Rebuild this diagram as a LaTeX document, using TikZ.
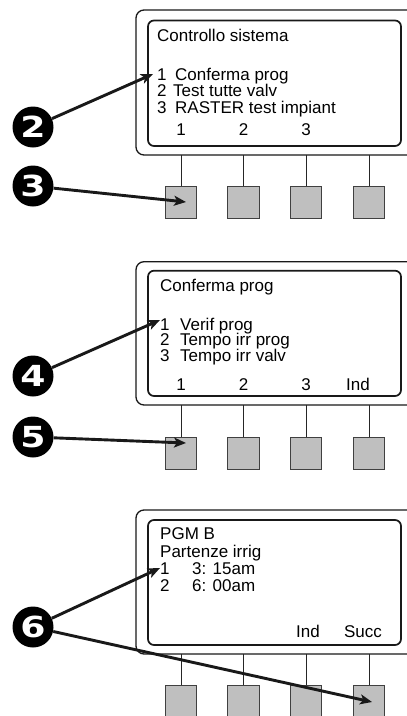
\documentclass[tikz,border=0pt]{standalone}
\usepackage{fontspec}
\setmainfont{Liberation Sans}
\newfontfamily\numfont{DejaVu Sans}
\usetikzlibrary{arrows.meta}
\newcommand{\dg}[2]{\makebox[#1][l]{#2}}
\begin{document}
\begin{tikzpicture}[x=1pt,y=-1pt,
  outerbox/.style={draw=black!90, line width=1.3pt, rounded corners=8pt},
  screen/.style={draw=black!90, line width=1.7pt, rounded corners=6pt},
  stem/.style={draw=black!85, line width=0.9pt},
  key/.style={draw=black!75, fill=black!25, line width=0.8pt, rectangle, minimum width=31.5pt, minimum height=31.5pt, inner sep=0pt, anchor=north},
  lbl/.style={anchor=base west, inner sep=0pt, font=\fontsize{17}{17}\selectfont},
  softlbl/.style={anchor=base, inner sep=0pt, font=\fontsize{17}{17}\selectfont},
  num/.style={circle, fill=black, minimum size=41pt, inner sep=0pt, text=white, font=\numfont\bfseries\fontsize{29}{29}\selectfont},
  arr/.style={-{Stealth[length=12pt,width=10pt,inset=3pt]}, line width=2.9pt, draw=black!90}]
\useasboundingbox (0,0) rectangle (407,716);
\clip (0,0) rectangle (407,716);

% ---------- Panel 1 ----------
\draw[outerbox] (136,10) rectangle (425,155);
\draw[screen] (148,20.5) rectangle (401,146);
\foreach \x/\n in {181/a,243.5/b,306/c,369/d}{
  \node[key] (k1\n) at (\x,186) {};
  \draw[stem] (k1\n.north) -- (\x,155);
}
\node[lbl] (p1t) at (157,41) {Controllo sistema};
\node[lbl] (p1l1) at (157,80) {\dg{18pt}{1}Conferma prog};
\node[lbl] (p1l2) at (157,96.5) {\dg{16pt}{2}Test tutte valv};
\node[lbl] (p1l3) at (157,113) {\dg{18pt}{3}RASTER test impiant};
\node[softlbl] (p1s1) at (181,135) {1};
\node[softlbl] (p1s2) at (243.5,135) {2};
\node[softlbl] (p1s3) at (306,135) {3};

% ---------- Panel 2 ----------
\draw[outerbox] (136,261.7) rectangle (425,405);
\draw[screen] (148,270.7) rectangle (401,396);
\foreach \x/\n in {181/a,243.5/b,306/c,369/d}{
  \node[key] (k2\n) at (\x,437) {};
  \draw[stem] (k2\n.north) -- (\x,405);
}
\node[lbl] (p2t) at (160,291) {Conferma prog};
\node[lbl] (p2l1) at (160,330) {\dg{20pt}{1}Verif prog};
\node[lbl] (p2l2) at (160,345.5) {\dg{20pt}{2}Tempo irr prog};
\node[lbl] (p2l3) at (160,361) {\dg{20pt}{3}Tempo irr valv};
\node[softlbl] (p2s1) at (181,390) {1};
\node[softlbl] (p2s2) at (243.5,390) {2};
\node[softlbl] (p2s3) at (306,390) {3};
\node[softlbl] (p2s4) at (358,390) {Ind};

% ---------- Panel 3 ----------
\draw[outerbox] (136,510) rectangle (425,654);
\draw[screen] (148,520) rectangle (401,645);
\foreach \x/\n in {181/a,243.5/b,306/c,369/d}{
  \node[key, minimum height=40pt] (k3\n) at (\x,685) {};
  \draw[stem] (k3\n.north) -- (\x,654);
}
\node[lbl] (p3t) at (160,539) {PGM B};
\node[lbl] (p3t2) at (160,557) {Partenze irrig};
\node[lbl] (p3l1) at (160,574) {\dg{32pt}{1}3: 15am};
\node[lbl] (p3l2) at (160,591) {\dg{32pt}{2}6: 00am};
\node[softlbl] (p3s3) at (308,637) {Ind};
\node[softlbl] (p3s4) at (363,637) {Succ};

% ---------- Callouts ----------
\node[num] (n2) at (33,127) {\scalebox{1.25}[1]{2}};
\node[num] (n3) at (33,186) {\scalebox{1.25}[1]{3}};
\node[num] (n4) at (33,376) {\scalebox{1.25}[1]{4}};
\node[num] (n5) at (33,437) {\scalebox{1.25}[1]{5}};
\node[num] (n6) at (33,627) {\scalebox{1.25}[1]{6}};

\coordinate (t2) at (153,74);
\coordinate (t3) at (186,202);
\coordinate (t4) at (160,320);
\coordinate (t5) at (186,443);
\coordinate (t6a) at (160,568);
\coordinate (t6b) at (372,702);

\draw[arr] (n2) -- (t2);
\draw[arr] (n3) -- (t3);
\draw[arr] (n4) -- (t4);
\draw[arr] (n5) -- (t5);
\draw[arr] (n6) -- (t6a);
\draw[arr] (n6) -- (t6b);
\end{tikzpicture}
\end{document}
